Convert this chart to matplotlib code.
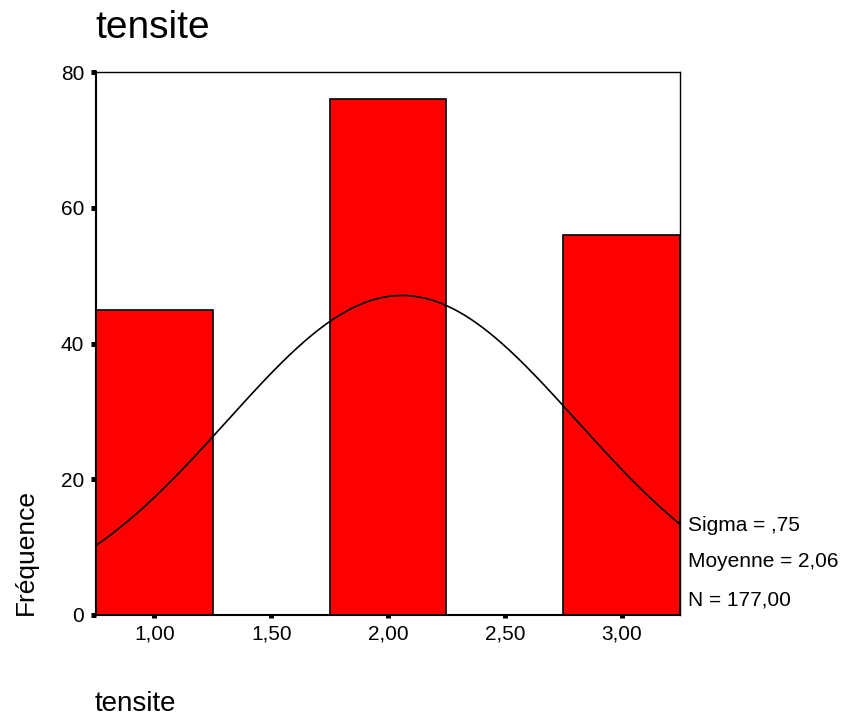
"""SPSS-style histogram of 'tensite' with fitted normal curve."""

import matplotlib

matplotlib.use("Agg")

import matplotlib.pyplot as plt
import numpy as np

plt.rcParams["font.family"] = ["Liberation Sans", "DejaVu Sans"]

# data
bin_centers = [1.0, 2.0, 3.0]
counts = [45, 76, 56]
bin_width = 0.5
sigma = 0.75
mean = 2.06
n_obs = 177

x_ticks = [1.0, 1.5, 2.0, 2.5, 3.0]
x_tick_labels = ["1,00", "1,50", "2,00", "2,50", "3,00"]
y_ticks = [0, 20, 40, 60, 80]
stats_lines = ["Sigma = ,75", "Moyenne = 2,06", "N = 177,00"]

fig = plt.figure(figsize=(8.45, 7.19), dpi=100)
ax = fig.add_axes([96 / 845, 1 - 615 / 719, 584 / 845, 543 / 719])

ax.bar(bin_centers, counts, width=bin_width, color="#ff0000",
       edgecolor="black", linewidth=1.2, zorder=2)

# fitted normal curve scaled to the histogram (N * bin width)
xs = np.linspace(0.75, 3.25, 300)
ys = n_obs * bin_width / (sigma * np.sqrt(2 * np.pi)) * np.exp(-0.5 * ((xs - mean) / sigma) ** 2)
ax.plot(xs, ys, color="black", linewidth=1.2, zorder=3)

ax.set_xlim(0.75, 3.25)
ax.set_ylim(0, 80)
ax.set_xticks(x_ticks)
ax.set_xticklabels(x_tick_labels)
ax.set_yticks(y_ticks)
ax.tick_params(axis="x", direction="out", length=2.5, width=3.6, pad=4, labelsize=15)
ax.tick_params(axis="y", direction="out", length=3.6, width=3.6, pad=5, labelsize=15)

for side in ("left", "bottom"):
    ax.spines[side].set_linewidth(1.5)
for side in ("top", "right"):
    ax.spines[side].set_linewidth(1.0)

fig.text(95 / 845, 1 - 38 / 719, "tensite", fontsize=28, va="baseline", ha="left")

ax.set_xlabel("tensite", loc="left", fontsize=20, va="baseline")
ax.xaxis.set_label_coords(-0.002, (615 - 711) / 543)
ax.set_ylabel("Fréquence", loc="bottom", fontsize=19, va="baseline")
ax.yaxis.set_label_coords((33 - 96) / 584, 0)

for line, base in zip(stats_lines, [531, 567, 605]):
    ax.text((688 - 96) / 584, (615 - base) / 543, line, transform=ax.transAxes,
            fontsize=15, va="baseline", ha="left")

fig.savefig("out.png", dpi=100)
